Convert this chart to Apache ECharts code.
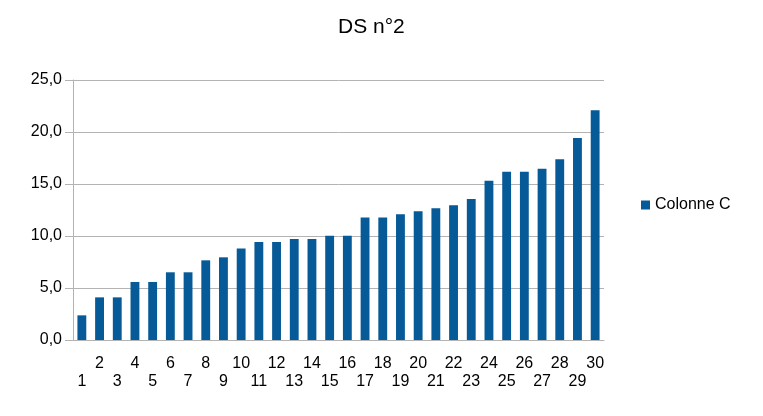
<!DOCTYPE html>
<html lang="fr">
  <head>
    <meta charset="UTF-8" />
    <title>DS n°2</title>
    <script src="https://cdn.jsdelivr.net/npm/echarts@6/dist/echarts.min.js"></script>
    <style>
      body { margin: 0; background: #fff; }
    </style>
  </head>
  <body>
    <div id="main" style="width: 763px; height: 416px"></div>
    <script type="text/javascript">
      // data
      const categories = [
        "1", "2", "3", "4", "5", "6", "7", "8", "9", "10",
        "11", "12", "13", "14", "15", "16", "17", "18", "19", "20",
        "21", "22", "23", "24", "25", "26", "27", "28", "29", "30",
      ];
      const colonneC = [
        2.37, 4.1, 4.1, 5.58, 5.58, 6.51, 6.51, 7.66, 7.95, 8.81,
        9.42, 9.42, 9.71, 9.71, 10.03, 10.03, 11.79, 11.79, 12.08, 12.37,
        12.66, 12.95, 13.56, 15.32, 16.18, 16.18, 16.47, 17.37, 19.42, 22.08,
      ];
      const yTicks = [0, 5, 10, 15, 20, 25];

      const font = "'Liberation Sans', Arial, sans-serif";
      let myChart = echarts.init(document.getElementById("main"));
      myChart.setOption({
        animation: false,
        title: {
          text: "DS n°2",
          left: 333,
          top: 12,
          textStyle: { fontFamily: font, fontSize: 21, fontWeight: "normal", color: "#000" },
        },
        legend: {
          data: ["Colonne C"],
          left: 636,
          top: 192,
          icon: "rect",
          itemWidth: 9,
          itemHeight: 9,
          itemGap: 6,
          textStyle: { fontFamily: font, fontSize: 16, color: "#000" },
        },
        grid: { left: 73, right: 159, top: 80, bottom: 76 },
        xAxis: {
          type: "category",
          data: categories,
          axisLine: { lineStyle: { color: "#b3b3b3" } },
          axisTick: { interval: 0, length: 6, lineStyle: { color: "#b3b3b3" } },
          axisLabel: {
            interval: 0,
            margin: 15,
            fontFamily: font,
            fontSize: 16,
            color: "#000",
            lineHeight: 18,
            formatter: (v, i) => (i % 2 === 0 ? "\n" + v : v),
          },
        },
        yAxis: {
          type: "value",
          min: yTicks[0],
          max: yTicks[yTicks.length - 1],
          interval: 5,
          axisLine: { show: true, lineStyle: { color: "#b3b3b3" } },
          axisTick: { show: true, length: 8, lineStyle: { color: "#b3b3b3" } },
          splitLine: { lineStyle: { color: "#b3b3b3" } },
          axisLabel: {
            margin: 11,
            fontFamily: font,
            fontSize: 16,
            color: "#000",
            formatter: (v) => v.toFixed(1).replace(".", ","),
          },
        },
        series: [
          {
            name: "Colonne C",
            type: "bar",
            data: colonneC,
            barCategoryGap: "50%",
            itemStyle: { color: "#065a97" },
          },
        ],
      });
    </script>
  </body>
</html>
